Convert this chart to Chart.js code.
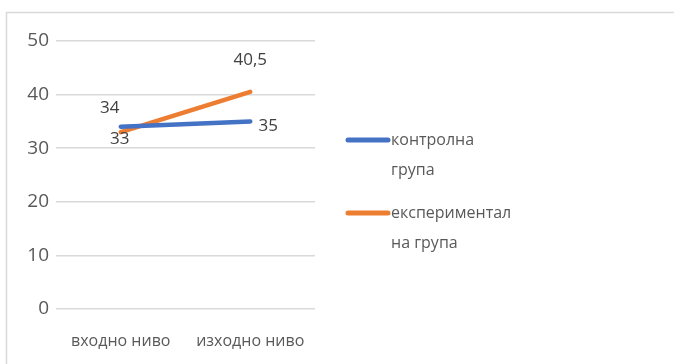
<!DOCTYPE html>
<html>
<head>
<meta charset="utf-8">
<script src="https://cdn.jsdelivr.net/npm/chart.js@4.4.0/dist/chart.umd.min.js"></script>
<style>
  html, body { margin: 0; padding: 0; background: #fff; }
  #wrap { width: 674px; height: 364px; position: relative; }
</style>
</head>
<body>
<div id="wrap"><canvas id="chart_levels" width="674" height="364"></canvas></div>
<script>
// categories and values
var categories = ['входно ниво', 'изходно ниво'];
var controlGroup = [34, 35];
var experimentalGroup = [33, 40.5];
var seriesNames = [['контролна', 'група'], ['експериментал', 'на група']];
var yTicks = [0, 10, 20, 30, 40, 50];

var fontFamily = '"Open Sans", "Noto Sans", sans-serif';

// offsets of the value labels from their points (dx, dy)
var labelOffsets = [
    [[-11, -19], [18, 5]],
    [[-1, 7], [0, -32]]
];

var framePlugin = {
    id: 'frame',
    beforeDraw: function (chart) {
        var ctx = chart.ctx;
        ctx.save();
        ctx.fillStyle = '#ffffff';
        ctx.fillRect(0, 0, chart.width, chart.height);
        ctx.strokeStyle = '#d9d9d9';
        ctx.lineWidth = 1.5;
        ctx.strokeRect(6.5, 12.5, chart.width + 10, chart.height + 10);
        ctx.restore();
    }
};

var valueLabels = {
    id: 'valueLabels',
    afterDatasetsDraw: function (chart) {
        var ctx = chart.ctx;
        ctx.save();
        ctx.font = '17px ' + fontFamily;
        ctx.fillStyle = '#404040';
        ctx.textAlign = 'center';
        ctx.textBaseline = 'middle';
        chart.data.datasets.forEach(function (ds, i) {
            var meta = chart.getDatasetMeta(i);
            meta.data.forEach(function (pt, j) {
                var off = labelOffsets[i][j];
                var txt = String(ds.data[j]).replace('.', ',');
                ctx.fillText(txt, pt.x + off[0], pt.y + off[1]);
            });
        });
        ctx.restore();
    }
};

var sideLegend = {
    id: 'sideLegend',
    afterDraw: function (chart) {
        var ctx = chart.ctx;
        var tops = [140, 213];
        ctx.save();
        ctx.font = '16px ' + fontFamily;
        ctx.textBaseline = 'middle';
        ctx.textAlign = 'left';
        chart.data.datasets.forEach(function (ds, i) {
            var y = tops[i];
            ctx.strokeStyle = ds.borderColor;
            ctx.lineWidth = 5;
            ctx.lineCap = 'round';
            ctx.beginPath();
            ctx.moveTo(348, y);
            ctx.lineTo(388, y);
            ctx.stroke();
            ctx.fillStyle = '#595959';
            ds.label.forEach(function (line, k) {
                ctx.fillText(line, 391, y + k * 30);
            });
        });
        ctx.restore();
    }
};

var ctx = document.getElementById('chart_levels').getContext('2d');
var levelsChart = new Chart(ctx, {
    type: 'line',
    data: {
        labels: categories,
        datasets: [{
            label: seriesNames[0],
            data: controlGroup,
            borderColor: '#4472c4',
            borderWidth: 4.5,
            borderCapStyle: 'round',
            pointRadius: 0,
            tension: 0
        }, {
            label: seriesNames[1],
            data: experimentalGroup,
            borderColor: '#ed7d31',
            borderWidth: 4.5,
            borderCapStyle: 'round',
            pointRadius: 0,
            tension: 0
        }]
    },
    options: {
        responsive: false,
        animation: false,
        devicePixelRatio: 1,
        layout: {
            padding: { left: 0, right: 359, top: 41, bottom: 0 }
        },
        plugins: {
            legend: { display: false },
            tooltip: { enabled: false }
        },
        scales: {
            x: {
                offset: true,
                grid: { display: false, drawTicks: false },
                border: { display: false },
                ticks: {
                    padding: 23,
                    color: '#595959',
                    font: { family: fontFamily, size: 16 }
                },
                afterFit: function (scale) { scale.height = 55; }
            },
            y: {
                min: 0,
                max: 50,
                afterBuildTicks: function (scale) {
                    scale.ticks = yTicks.map(function (v) { return { value: v }; });
                },
                grid: { color: '#d9d9d9', lineWidth: 1.5, drawTicks: false },
                border: { display: false },
                ticks: {
                    padding: 7,
                    color: '#595959',
                    font: { family: fontFamily, size: 19 }
                },
                afterFit: function (scale) { scale.width = 56; }
            }
        }
    },
    plugins: [framePlugin, valueLabels, sideLegend]
});
</script>
</body>
</html>
